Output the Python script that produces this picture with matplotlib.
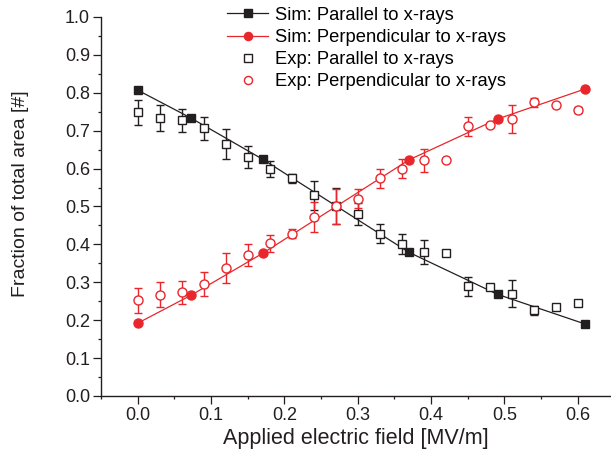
import numpy as np
import matplotlib
matplotlib.use("Agg")
import matplotlib.pyplot as plt
from matplotlib.ticker import MultipleLocator

plt.rcParams['font.family'] = ['Liberation Sans', 'DejaVu Sans']

# simulation
sim_field = [0.0, 0.073, 0.171, 0.37, 0.491, 0.61]
sim_parallel = [0.807, 0.733, 0.624, 0.379, 0.268, 0.190]
sim_perpendicular = [0.192, 0.266, 0.377, 0.623, 0.731, 0.810]

# experiment
exp_field = [0.0, 0.03, 0.06, 0.09, 0.12, 0.15, 0.18, 0.21, 0.24, 0.27,
             0.30, 0.33, 0.36, 0.39, 0.42, 0.45, 0.48, 0.51, 0.54, 0.57, 0.60]
exp_parallel = [0.748, 0.734, 0.727, 0.706, 0.664, 0.630, 0.599, 0.574, 0.529, 0.501,
                0.480, 0.428, 0.401, 0.379, 0.378, 0.290, 0.287, 0.270, 0.226, 0.234, 0.245]
exp_parallel_err = [0.032, 0.034, 0.030, 0.031, 0.040, 0.029, 0.022, 0.012, 0.037, 0.047,
                    0.028, 0.025, 0.026, 0.032, np.nan, 0.025, np.nan, 0.036, 0.012, np.nan, 0.008]
exp_perpendicular = [0.253, 0.267, 0.274, 0.296, 0.337, 0.372, 0.403, 0.428, 0.472, 0.500,
                     0.521, 0.574, 0.600, 0.622, 0.623, 0.712, 0.714, 0.731, 0.775, 0.767, 0.755]
exp_perpendicular_err = [0.033, 0.033, 0.030, 0.031, 0.040, 0.029, 0.022, 0.012, 0.039, 0.047,
                         0.026, 0.025, 0.026, 0.030, np.nan, 0.025, np.nan, 0.036, 0.012, np.nan, 0.008]

black = '#231f20'
red = '#e8262b'

fig = plt.figure(figsize=(6.11, 4.54), dpi=100)
ax = fig.add_axes([0.1653, 0.1278, 0.8347, 0.8348])

ax.plot(sim_field, sim_parallel, color=black, lw=0.9, marker='s', ms=6,
        mfc=black, mec=black, label='Sim: Parallel to x-rays', zorder=3)
ax.plot(sim_field, sim_perpendicular, color=red, lw=0.9, marker='o', ms=6.5,
        mfc=red, mec=red, label='Sim: Perpendicular to x-rays', zorder=3)

ax.errorbar(exp_field, exp_parallel, yerr=exp_parallel_err, fmt='none',
            ecolor=black, elinewidth=1.0, capsize=3, capthick=1.0, zorder=2)
ax.errorbar(exp_field, exp_perpendicular, yerr=exp_perpendicular_err, fmt='none',
            ecolor=red, elinewidth=1.0, capsize=3, capthick=1.0, zorder=2)
ax.plot(exp_field, exp_parallel, ls='none', marker='s', ms=6, mfc='white',
        mec=black, mew=1.0, label='Exp: Parallel to x-rays', zorder=4)
ax.plot(exp_field, exp_perpendicular, ls='none', marker='o', ms=6.5, mfc='white',
        mec=red, mew=1.0, label='Exp: Perpendicular to x-rays', zorder=4)

ax.set_xlim(-0.05, 0.6455)
ax.set_ylim(0.0, 1.0)
ax.xaxis.set_major_locator(MultipleLocator(0.1))
ax.xaxis.set_minor_locator(MultipleLocator(0.05))
ax.yaxis.set_major_locator(MultipleLocator(0.1))
ax.yaxis.set_minor_locator(MultipleLocator(0.05))
ax.set_xticks([0.0, 0.1, 0.2, 0.3, 0.4, 0.5, 0.6])
ax.xaxis.set_major_formatter(plt.FormatStrFormatter('%.1f'))
ax.yaxis.set_major_formatter(plt.FormatStrFormatter('%.1f'))

for side in ['top', 'right']:
    ax.spines[side].set_visible(False)
for side in ['left', 'bottom']:
    ax.spines[side].set_linewidth(1.0)
    ax.spines[side].set_color(black)

ax.tick_params(which='major', direction='out', length=5.5, width=0.9,
               labelsize=13, colors=black, pad=2.5)
ax.tick_params(which='minor', direction='out', length=2.5, width=0.9, colors=black)

ax.set_xlabel('Applied electric field [MV/m]', fontsize=15.5, color=black, labelpad=3)
ax.set_ylabel('Fraction of total area [#]', fontsize=14, color=black)
ax.yaxis.set_label_coords(-0.141, 0.534)

ax.legend(loc='upper left', bbox_to_anchor=(0.372, 0.985), bbox_transform=fig.transFigure,
          frameon=False, fontsize=13.25, handlelength=2.23, handletextpad=0.36,
          labelspacing=0.28, borderpad=0, borderaxespad=0, markerscale=0.9)

fig.savefig('out.png', dpi=100)
